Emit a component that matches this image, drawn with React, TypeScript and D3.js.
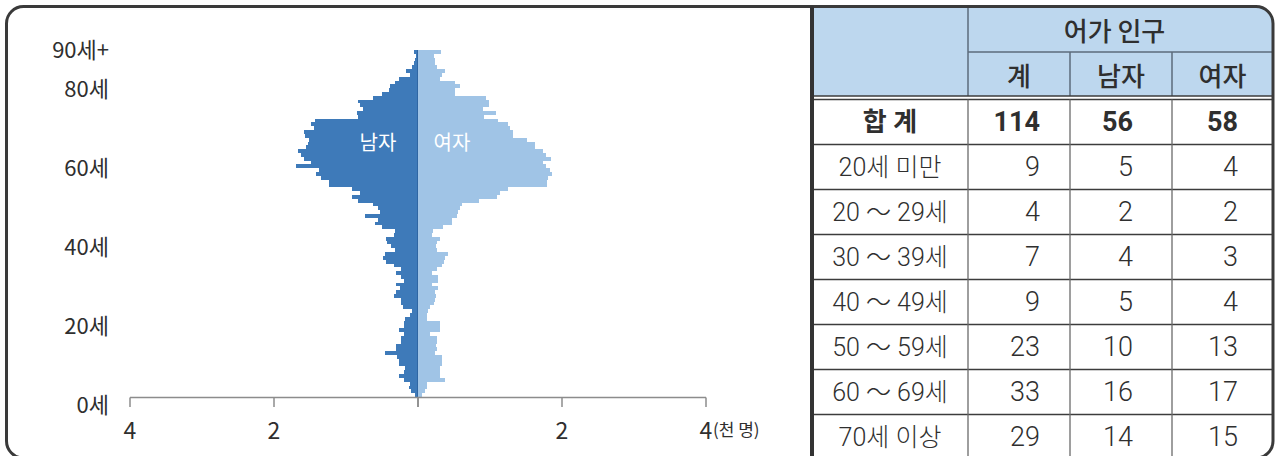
import React from "react";
import * as d3 from "d3";

// ---------- Pyramid data (thousand persons), index = age 0..90 (90 = 90+) ----------
const maleByAge: number[] = [
  0.04, 0.10, 0.12, 0.11, 0.20, 0.26, 0.19, 0.18, 0.26, 0.27,
  0.29, 0.46, 0.31, 0.30, 0.24, 0.24, 0.20, 0.26, 0.20, 0.19,
  0.18, 0.11, 0.08, 0.21, 0.24, 0.23, 0.34, 0.31, 0.25, 0.30,
  0.19, 0.24, 0.31, 0.23, 0.34, 0.44, 0.48, 0.46, 0.32, 0.375,
  0.43, 0.44, 0.33, 0.32, 0.50, 0.60, 0.56, 0.74, 0.53, 0.55,
  0.62, 0.84, 0.92, 0.80, 0.91, 1.23, 1.23, 1.35, 1.42, 1.37,
  1.69, 1.48, 1.59, 1.63, 1.66, 1.55, 1.53, 1.52, 1.57, 1.58,
  1.45, 1.49, 1.43, 0.83, 0.85, 0.76, 0.80, 0.84, 0.62, 0.50,
  0.40, 0.39, 0.32, 0.27, 0.11, 0.17, 0.09, 0.06, 0.04, 0.03,
  0.05,
];
const femaleByAge: number[] = [
  0.05, 0.10, 0.13, 0.12, 0.37, 0.31, 0.31, 0.31, 0.33, 0.33,
  0.33, 0.24, 0.26, 0.25, 0.26, 0.27, 0.17, 0.31, 0.31, 0.30,
  0.12, 0.12, 0.14, 0.16, 0.22, 0.24, 0.25, 0.24, 0.28, 0.19,
  0.28, 0.28, 0.19, 0.26, 0.34, 0.36, 0.37, 0.41, 0.26, 0.25,
  0.26, 0.31, 0.20, 0.21, 0.35, 0.47, 0.47, 0.54, 0.56, 0.58,
  0.61, 0.85, 1.10, 1.14, 1.25, 1.79, 1.79, 1.81, 1.86, 1.83,
  1.78, 1.74, 1.85, 1.78, 1.74, 1.62, 1.62, 1.51, 1.32, 1.32,
  1.28, 1.25, 1.11, 0.92, 1.09, 0.90, 0.98, 0.98, 0.95, 0.51,
  0.51, 0.58, 0.52, 0.31, 0.33, 0.375, 0.26, 0.24, 0.24, 0.22,
  0.32,
];
const ageTicks: number[] = [0, 20, 40, 60, 80, 90];
const ageTickLabels: string[] = ["0세", "20세", "40세", "60세", "80세", "90세+"];
const xTicks: number[] = [0, 2, 4];
const unitLabel = "(천 명)";
const maleLabel = "남자";
const femaleLabel = "여자";

// ---------- Table data ----------
const headerTop = "어가 인구";
const headerCols: string[] = ["계", "남자", "여자"];
const rowLabels: string[] = [
  "합 계",
  "20세 미만",
  "20 ～ 29세",
  "30 ～ 39세",
  "40 ～ 49세",
  "50 ～ 59세",
  "60 ～ 69세",
  "70세 이상",
];
const totals: number[] = [114, 9, 4, 7, 9, 23, 33, 29];
const males: number[] = [56, 5, 2, 4, 5, 10, 16, 14];
const females: number[] = [58, 4, 2, 3, 4, 13, 17, 15];

const MALE_COLOR = "#3e7ab9";
const FEMALE_COLOR = "#a0c4e6";
const HEADER_BG = "#bdd7ee";
const TEXT = "#2f2f2f";
const KFONT = "'Noto Sans CJK KR', 'Noto Sans', sans-serif";
const TFONT = "Roboto, 'Noto Sans CJK KR', sans-serif";

export default function App() {
  const W = 1276;
  const H = 456;

  // pyramid scales
  const cx = 418;
  const xMale = d3.scaleLinear().domain([0, 4]).range([cx, 130]);
  const xFemale = d3.scaleLinear().domain([0, 4]).range([cx, 706]);
  const yAge = d3.scaleLinear().domain([0, maleByAge.length]).range([397, 50]);
  const yLabel = d3.scaleLinear().domain([0, 90]).range([403, 47.5]);
  const ages = d3.range(maleByAge.length);

  // table geometry
  const colX = [812, 968, 1070, 1172, 1273];
  const numEnd = [1040, 1133, 1238];
  const yRows = d3.scaleBand<string>().domain(rowLabels).range([99.5, 459.5]);
  const outerTop = 6.5;
  const outerBottom = 458;
  const outerLeft = 6.5;
  const outerRight = 1273;
  const r = 17;

  const tableCols = [totals, males, females];

  return (
    <div style={{ position: "absolute", left: 0, top: 0 }}>
      <svg width={W} height={H} style={{ display: "block", background: "#fff" }}>
        <defs>
          <clipPath id="outerClip">
            <rect x={outerLeft} y={outerTop} width={outerRight - outerLeft} height={outerBottom - outerTop} rx={r} ry={r} />
          </clipPath>
        </defs>

        {/* table header background */}
        <g clipPath="url(#outerClip)">
          <rect x={colX[0]} y={outerTop} width={outerRight - colX[0]} height={96 - outerTop} fill={HEADER_BG} />
        </g>

        {/* pyramid bars */}
        <g shapeRendering="crispEdges">
          {ages.map((a) => (
            <rect
              key={"m" + a}
              x={xMale(maleByAge[a])}
              y={yAge(a + 1)}
              width={cx - xMale(maleByAge[a])}
              height={yAge(a) - yAge(a + 1)}
              fill={MALE_COLOR}
            />
          ))}
          {ages.map((a) => (
            <rect
              key={"f" + a}
              x={cx}
              y={yAge(a + 1)}
              width={xFemale(femaleByAge[a]) - cx}
              height={yAge(a) - yAge(a + 1)}
              fill={FEMALE_COLOR}
            />
          ))}
        </g>
        <line x1={cx - 0.5} x2={cx - 0.5} y1={yAge(maleByAge.length)} y2={397} stroke="#2f66a3" strokeWidth={1} />

        <text x={378} y={141} fill="#fff" fontFamily={KFONT} fontSize={20} textAnchor="middle" dominantBaseline="central">
          {maleLabel}
        </text>
        <text x={452} y={141} fill="#fff" fontFamily={KFONT} fontSize={20} textAnchor="middle" dominantBaseline="central">
          {femaleLabel}
        </text>

        {/* x axis */}
        <g>
          <line x1={xMale(4)} x2={xFemale(4)} y1={397.5} y2={397.5} stroke="#8c8c8c" strokeWidth={1.5} />
          {xTicks.map((t) => (
            <g key={"xt" + t}>
              <line x1={xMale(t)} x2={xMale(t)} y1={397.5} y2={407} stroke="#8c8c8c" strokeWidth={1.5} />
              <line x1={xFemale(t)} x2={xFemale(t)} y1={397.5} y2={407} stroke="#8c8c8c" strokeWidth={1.5} />
              {t !== 0 && (
                <>
                  <text x={xMale(t)} y={429} fill={TEXT} fontFamily={KFONT} fontSize={23} textAnchor="middle" dominantBaseline="central">
                    {t}
                  </text>
                  <text x={xFemale(t)} y={429} fill={TEXT} fontFamily={KFONT} fontSize={23} textAnchor="middle" dominantBaseline="central">
                    {t}
                  </text>
                </>
              )}
            </g>
          ))}
          <text x={xFemale(4) + 7} y={428} fill={TEXT} fontFamily={KFONT} fontSize={17} textAnchor="start" dominantBaseline="central">
            {unitLabel}
          </text>
        </g>

        {/* y labels */}
        {ageTicks.map((a, i) => (
          <text key={"yl" + a} x={109} y={yLabel(a)} fill={TEXT} fontFamily={KFONT} fontSize={22} textAnchor="end" dominantBaseline="central">
            {ageTickLabels[i]}
          </text>
        ))}

        {/* table header lines */}
        <g stroke="#5d6b7b" strokeWidth={1.5}>
          <line x1={colX[1]} x2={colX[1]} y1={outerTop} y2={96} />
          <line x1={colX[1]} x2={outerRight} y1={52} y2={52} />
          <line x1={colX[2]} x2={colX[2]} y1={52} y2={96} />
          <line x1={colX[3]} x2={colX[3]} y1={52} y2={96} />
        </g>
        <g stroke="#3c3c3c" strokeWidth={1.5}>
          <line x1={colX[0]} x2={outerRight} y1={96} y2={96} />
          <line x1={colX[0]} x2={outerRight} y1={99.5} y2={99.5} />
        </g>

        {/* table header text */}
        <text x={(colX[1] + colX[4]) / 2 - 6} y={29} fill={TEXT} fontFamily={KFONT} fontSize={26} fontWeight={500} textAnchor="middle" dominantBaseline="central">
          {headerTop}
        </text>
        {headerCols.map((h, i) => (
          <text key={"hc" + i} x={(colX[i + 1] + colX[i + 2]) / 2} y={74} fill={TEXT} fontFamily={KFONT} fontSize={26} fontWeight={500} textAnchor="middle" dominantBaseline="central">
            {h}
          </text>
        ))}

        {/* table body */}
        {rowLabels.map((lab, ri) => {
          const y0 = yRows(lab) as number;
          const bw = yRows.bandwidth();
          const bold = ri === 0;
          return (
            <g key={"row" + ri}>
              {ri > 0 && <line x1={colX[0]} x2={outerRight} y1={y0} y2={y0} stroke="#3c3c3c" strokeWidth={1.5} />}
              <text x={(colX[0] + colX[1]) / 2} y={y0 + bw / 2} fill={TEXT} fontFamily={TFONT} fontSize={bold ? 26 : 25} fontWeight={bold ? 700 : 300} textAnchor="middle" dominantBaseline="central">
                {lab}
              </text>
              {tableCols.map((col, ci) => (
                <text key={"c" + ci} x={numEnd[ci]} y={y0 + bw / 2} fill={TEXT} fontFamily={TFONT} fontSize={27} fontWeight={bold ? 700 : 300} textAnchor="end" dominantBaseline="central">
                  {col[ri]}
                </text>
              ))}
            </g>
          );
        })}
        <g stroke="#6a6a6a" strokeWidth={1.3}>
          {[1, 2, 3].map((k) => (
            <line key={"vl" + k} x1={colX[k]} x2={colX[k]} y1={99.5} y2={outerBottom} />
          ))}
        </g>

        {/* outer frame and divider */}
        <rect x={outerLeft} y={outerTop} width={outerRight - outerLeft} height={outerBottom - outerTop} rx={r} ry={r} fill="none" stroke="#3a3a3a" strokeWidth={3} />
        <line x1={colX[0]} x2={colX[0]} y1={outerTop} y2={outerBottom} stroke="#333" strokeWidth={4} />
      </svg>
    </div>
  );
}
